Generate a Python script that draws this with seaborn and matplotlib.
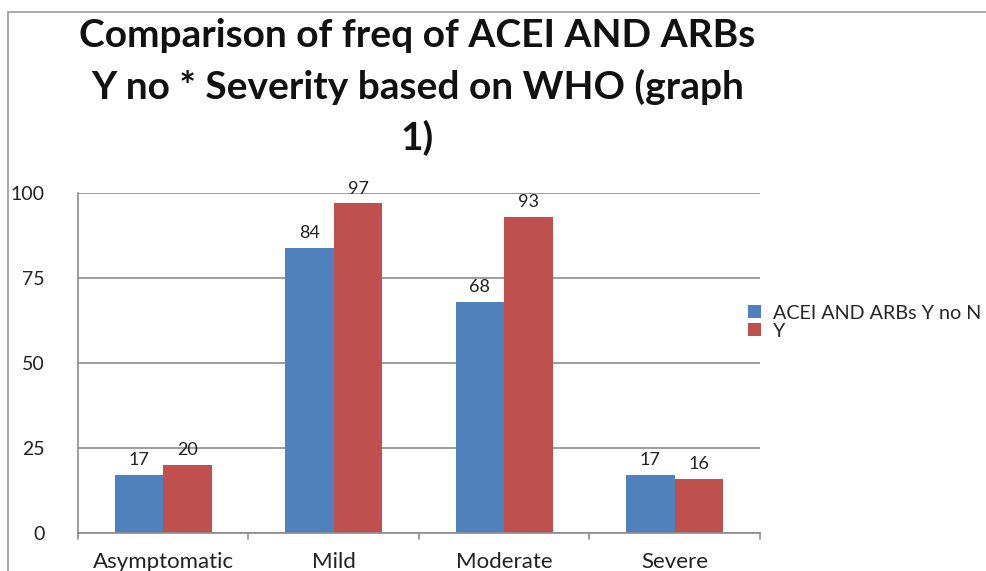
import pandas as pd
import matplotlib.pyplot as plt
import seaborn as sns
from matplotlib.lines import Line2D

# ================================================================

severity = ['Asymptomatic', 'Mild', 'Moderate', 'Severe']
acei_no = [17, 84, 68, 17]
acei_yes = [20, 97, 93, 16]
series_names = ['ACEI AND ARBs Y no N', 'Y']

df = pd.DataFrame({
    'Severity': severity * 2,
    'Count': acei_no + acei_yes,
    'Group': [series_names[0]] * 4 + [series_names[1]] * 4,
})

sns.set_style('white')
plt.rcParams['font.family'] = ['Lato', 'DejaVu Sans']

fig = plt.figure(figsize=(9.87, 5.71), dpi=100)
ax0 = fig.add_axes([0.079, 0.0665, 0.691, 0.595])

sns.barplot(data=df, x='Severity', y='Count', hue='Group',
            palette=['#4F81BD', '#C0504D'], width=0.57, saturation=1,
            linewidth=0, ax=ax0)

for cont in ax0.containers:
    ax0.bar_label(cont, fontsize=13, padding=5, color='#222222')

ax0.set_ylim(0, 100)
ax0.set_yticks([0, 25, 50, 75, 100])
ax0.set_xlim(-0.5, 3.5)
ax0.yaxis.grid(True, color='#8c8c8c', linewidth=1.2)
ax0.set_axisbelow(True)
ax0.set_xlabel('')
ax0.set_ylabel('')
for s in ['top', 'right']:
    ax0.spines[s].set_visible(False)
for s in ['left', 'bottom']:
    ax0.spines[s].set_color('#8c8c8c')
    ax0.spines[s].set_linewidth(1.2)
ax0.tick_params(axis='y', labelsize=14, pad=24, length=0, labelcolor='#222222')
ax0.tick_params(axis='x', labelsize=16, length=0, pad=14, labelcolor='#222222')
ax0.set_xticks([0, 1, 2, 3], severity)
for xb in [-0.5, 0.5, 1.5, 2.5, 3.5]:
    ax0.plot([xb, xb], [0, -1.8], color='#8c8c8c', lw=1.2, clip_on=False)

leg = ax0.legend(loc='center left', bbox_to_anchor=(0.750, 0.436),
                 bbox_transform=fig.transFigure, frameon=False,
                 fontsize=14.2, handlelength=0.65, handleheight=0.65,
                 handletextpad=0.6, labelspacing=0.05, borderaxespad=0)

fig.text(0.423, 0.968, 'Comparison of freq of ACEI AND ARBs\nY no * Severity based on WHO (graph\n1)',
         ha='center', va='top', fontsize=28, fontweight='bold',
         linespacing=1.5, color='#111111')

# frame of the original chart area
fig.add_artist(Line2D([0.008, 1.0], [0.979, 0.979], color='#9a9a9a', lw=1.2))
fig.add_artist(Line2D([0.008, 0.008], [0.0, 0.979], color='#9a9a9a', lw=1.2))

fig.savefig('out.png', dpi=100)
plt.close(fig)
